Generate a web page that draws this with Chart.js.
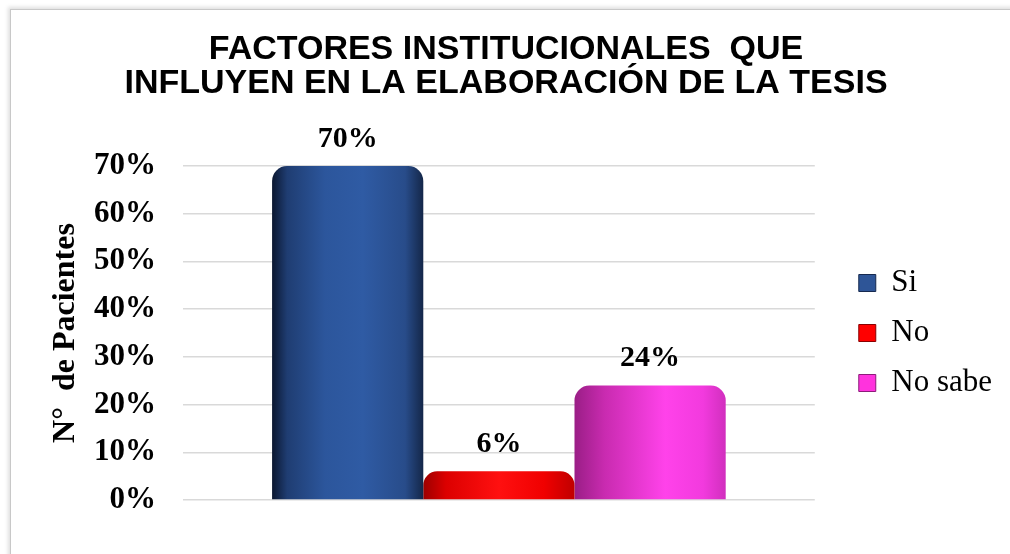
<!DOCTYPE html>
<html lang="es">
<head>
<meta charset="utf-8">
<title>Factores institucionales</title>
<script src="https://cdn.jsdelivr.net/npm/chart.js@4.4.1/dist/chart.umd.min.js"></script>
<style>
  html, body { margin: 0; padding: 0; background: #fff; overflow: hidden; }
  .chart { position: relative; width: 1010px; height: 554px; }
  .chart__canvas { position: absolute; left: 0; top: 0; }
  .chart__frame {
    position: absolute; left: 10px; top: 9px; right: -20px; bottom: -20px;
    border-left: 1px solid #c8c8c8; border-top: 1px solid #c8c8c8;
    box-shadow: -2px -2px 4px rgba(0, 0, 0, 0.13);
    pointer-events: none;
  }
</style>
</head>
<body>
<div class="chart">
  <div class="chart__frame"></div>
  <canvas class="chart__canvas" id="chart" width="1010" height="554"></canvas>
</div>
<script>
const categories = ['']
const seriesNames = ['Si', 'No', 'No sabe']
const siValues = [70]
const noValues = [6]
const noSabeValues = [24]
const yMax = 70
const yStep = 10

const titleLines = ['FACTORES INSTITUCIONALES  QUE', 'INFLUYEN EN LA ELABORACIÓN DE LA TESIS']
const yTitle = 'N°  de Pacientes'

const serif = '"Liberation Serif", "Times New Roman", serif'
const sans = '"Liberation Sans", Arial, sans-serif'

// horizontal shading of each cylinder, plus flat colour for the legend
const barStyles = [
  { flat: '#2e5597', edge: '#16294f', stops: [[0, '#0b1730'], [0.1, '#1f3d72'], [0.35, '#2c569c'], [0.6, '#2f5ba4'], [0.88, '#284c8a'], [1, '#142749']] },
  { flat: '#ff0000', edge: '#8a0000', stops: [[0, '#9c0000'], [0.15, '#dc0000'], [0.5, '#ff1010'], [0.8, '#f00000'], [1, '#c00000']] },
  { flat: '#ff33dd', edge: '#8c1c7a', stops: [[0, '#9a1e86'], [0.2, '#c92bb0'], [0.6, '#ff42ea'], [0.85, '#f23ade'], [1, '#d12fbe']] },
]

function barFill(style) {
  return (c) => {
    const bar = c.element
    if (!bar || bar.x === undefined || !bar.width) return style.flat
    const left = bar.x - bar.width / 2
    const g = c.chart.ctx.createLinearGradient(left, 0, left + bar.width, 0)
    style.stops.forEach(([at, color]) => g.addColorStop(at, color))
    return g
  }
}

const valueLabels = {
  id: 'valueLabels',
  afterDatasetsDraw(chart) {
    const { ctx } = chart
    ctx.save()
    ctx.font = `bold 30px ${serif}`
    ctx.fillStyle = '#000'
    ctx.textAlign = 'center'
    ctx.textBaseline = 'alphabetic'
    chart.data.datasets.forEach((ds, i) => {
      chart.getDatasetMeta(i).data.forEach((bar, j) => {
        ctx.fillText(ds.data[j] + '%', bar.x, bar.y - 19)
      })
    })
    ctx.restore()
  },
}

// keep a gap between the plot area and the legend items
const legendGap = 25
const legendOffset = {
  id: 'legendOffset',
  beforeLayout(chart) {
    const legend = chart.legend
    if (!legend || legend._gapPatched) return
    const fit = legend.fit
    legend.fit = function () {
      fit.call(this)
      this.width += legendGap
    }
    legend._gapPatched = true
  },
  afterLayout(chart) {
    if (chart.legend) chart.legend.left += legendGap
  },
}

const allValues = [siValues, noValues, noSabeValues]
const datasets = seriesNames.map((name, i) => ({
  label: name,
  data: allValues[i],
  backgroundColor: barFill(barStyles[i]),
  borderWidth: 0,
  borderRadius: { topLeft: 15, topRight: 15, bottomLeft: 0, bottomRight: 0 },
  borderSkipped: 'start',
  categoryPercentage: 0.718,
  barPercentage: 1,
}))

const chart = new Chart(document.getElementById('chart').getContext('2d'), {
  type: 'bar',
  data: { labels: categories, datasets },
  plugins: [valueLabels, legendOffset],
  options: {
    responsive: false,
    animation: false,
    layout: { padding: { left: 10, right: 8, top: 0, bottom: 54 } },
    plugins: {
      tooltip: { enabled: false },
      title: {
        display: true,
        text: titleLines,
        color: '#000',
        font: { family: sans, size: 34, weight: 'bold', lineHeight: 1.0 },
        padding: { top: 33, bottom: 65 },
      },
      legend: {
        position: 'right',
        fullSize: false,
        labels: {
          color: '#000',
          font: { family: serif, size: 31 },
          boxWidth: 17,
          boxHeight: 17,
          padding: 19,
          generateLabels(c) {
            return Chart.defaults.plugins.legend.labels.generateLabels(c).map((item, i) => ({
              ...item,
              fillStyle: barStyles[i].flat,
              strokeStyle: barStyles[i].edge,
              lineWidth: 1,
            }))
          },
        },
      },
    },
    scales: {
      x: { display: false },
      y: {
        min: 0,
        max: yMax,
        border: { display: false },
        grid: { color: '#d9d9d9', lineWidth: 1.5, drawTicks: false },
        ticks: {
          stepSize: yStep,
          padding: 27,
          color: '#000',
          font: { family: serif, size: 31, weight: 'bold' },
          callback: (v) => v + '%',
        },
        title: {
          display: true,
          text: yTitle,
          color: '#000',
          font: { family: serif, size: 32, weight: 'bold', lineHeight: 1.0 },
          padding: { top: 40, bottom: -15 },
        },
      },
    },
  },
})

// second pass so the gradients can use the laid out bar geometry
chart.update()
</script>
</body>
</html>
